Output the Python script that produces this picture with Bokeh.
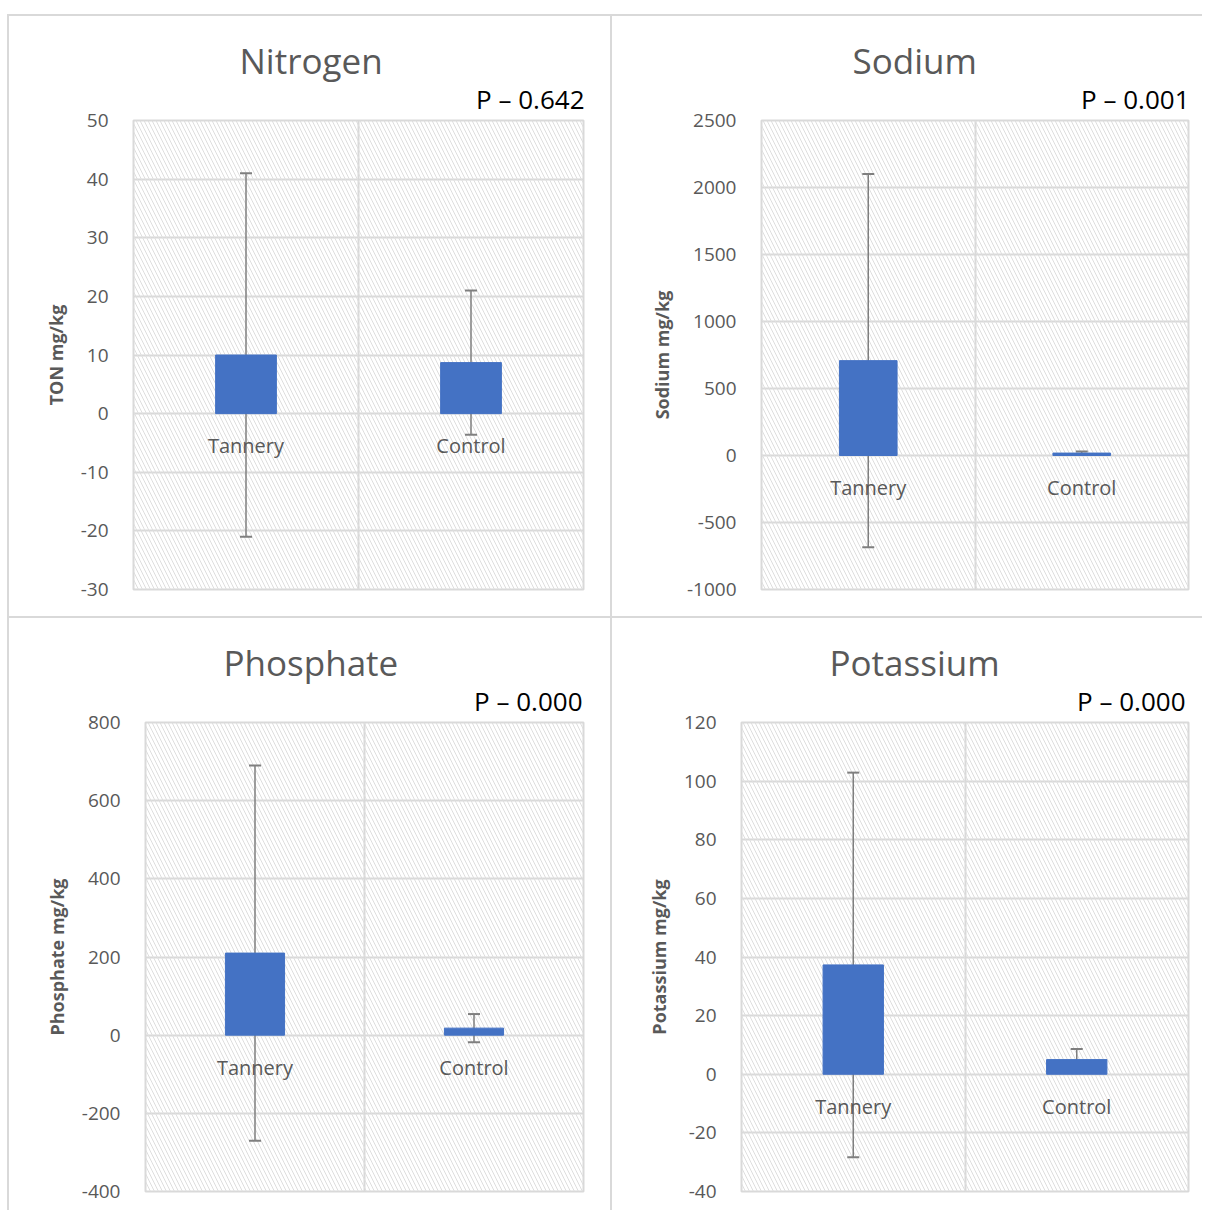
import math
from bokeh.plotting import figure
from bokeh.layouts import column, row
from bokeh.models import (Range1d, FixedTicker, Whisker, ColumnDataSource, Title,
                          BoxAnnotation, NumeralTickFormatter)
from bokeh.core.properties import value
from bokeh.embed import file_html
from bokeh.resources import INLINE

# ---------------- data ----------------
categories = ["Tannery", "Control"]

nitrogen_mean = [10.0, 8.7]
nitrogen_sd = [31.0, 12.3]

sodium_mean = [708.0, 18.0]
sodium_sd = [1392.0, 12.0]

phosphate_mean = [210.0, 18.0]
phosphate_sd = [480.0, 36.0]

potassium_mean = [37.3, 5.0]
potassium_sd = [65.6, 3.6]

titles = ["Nitrogen", "Sodium", "Phosphate", "Potassium"]
p_values = ["P \u2013 0.642", "P \u2013 0.001", "P \u2013 0.000", "P \u2013 0.000"]
y_labels = ["TON mg/kg", "Sodium mg/kg", "Phosphate mg/kg", "Potassium mg/kg"]
y_ticks = [
    [-30, -20, -10, 0, 10, 20, 30, 40, 50],
    [-1000, -500, 0, 500, 1000, 1500, 2000, 2500],
    [-400, -200, 0, 200, 400, 600, 800],
    [-40, -20, 0, 20, 40, 60, 80, 100, 120],
]

FONT = "Open Sans"
GRAY_TXT = "#595959"
GRID = "#d9d9d9"
BAR = "#4472C4"
ERR = "#7f7f7f"


def panel(title, pval, ylab, ticks, means, sds, w, h, mb_left, mb_right, mb_top, mb_bottom,
          title_offset, p_offset, ylab_standoff):
    p = figure(width=w, height=h, output_backend="svg", toolbar_location=None,
               x_range=Range1d(0, 2), y_range=Range1d(ticks[0], ticks[-1]),
               x_axis_location=None, min_border_left=mb_left, min_border_right=mb_right,
               min_border_top=mb_top, min_border_bottom=mb_bottom,
               background_fill_color="white", border_fill_color="white",
               styles={"border-left": f"2px solid {GRID}", "border-top": f"2px solid {GRID}"})
    p.outline_line_color = GRID
    p.outline_line_width = 2

    # hatched plot-area background
    p.add_layout(BoxAnnotation(fill_alpha=0, line_alpha=0, hatch_pattern="\\",
                               hatch_color="#dedede", hatch_scale=8, hatch_weight=1,
                               level="underlay"))

    p.ygrid.ticker = FixedTicker(ticks=ticks)
    p.ygrid.grid_line_color = GRID
    p.ygrid.grid_line_width = 2
    p.xgrid.ticker = FixedTicker(ticks=[1])
    p.xgrid.grid_line_color = GRID
    p.xgrid.grid_line_width = 2

    ax = p.yaxis[0]
    ax.ticker = FixedTicker(ticks=ticks)
    ax.formatter = NumeralTickFormatter(format="0")
    ax.axis_line_color = None
    ax.major_tick_line_color = None
    ax.minor_tick_line_color = None
    ax.major_label_text_font = FONT
    ax.major_label_text_font_size = "19px"
    ax.major_label_text_color = GRAY_TXT
    ax.major_label_standoff = 19
    ax.axis_label = ylab
    ax.axis_label_text_font = FONT
    ax.axis_label_text_font_size = "18px"
    ax.axis_label_text_font_style = "bold"
    ax.axis_label_text_color = GRAY_TXT
    ax.axis_label_standoff = ylab_standoff

    xs = [i + 0.5 for i in range(len(categories))]
    src = ColumnDataSource(dict(
        x=xs, cat=categories, top=means,
        upper=[m + s for m, s in zip(means, sds)],
        lower=[m - s for m, s in zip(means, sds)],
        zero=[0] * len(categories),
    ))
    p.vbar(x="x", top="top", bottom=0, width=0.27, source=src,
           fill_color=BAR, line_color=BAR)
    wh = Whisker(base="x", upper="upper", lower="lower", source=src,
                 line_color=ERR, line_width=1.5)
    wh.upper_head.line_color = ERR
    wh.lower_head.line_color = ERR
    wh.upper_head.size = 12
    wh.lower_head.size = 12
    wh.upper_head.line_width = 2
    wh.lower_head.line_width = 2
    p.add_layout(wh)

    p.text(x="x", y="zero", text="cat", source=src, text_font=value(FONT),
           text_font_size="20px", text_color=GRAY_TXT, text_align="center",
           text_baseline="middle", y_offset=32)

    p.add_layout(Title(text=pval, align="right", offset=p_offset, text_font=FONT,
                       text_font_size="26px", text_color="black",
                       text_font_style="normal", standoff=8), "above")
    p.add_layout(Title(text=title, align="left", offset=title_offset, text_font=FONT,
                       text_font_size="35px", text_color=GRAY_TXT,
                       text_font_style="normal", standoff=-18), "above")
    return p


p1 = panel(titles[0], p_values[0], y_labels[0], y_ticks[0], nitrogen_mean, nitrogen_sd,
           603, 602, 124, 29, 104, 29, 106, -1, 10)
p2 = panel(titles[1], p_values[1], y_labels[1], y_ticks[1], sodium_mean, sodium_sd,
           592, 602, 149, 16, 104, 29, 91, -1, 10)
p3 = panel(titles[2], p_values[2], y_labels[2], y_ticks[2], phosphate_mean, phosphate_sd,
           603, 594, 136, 29, 104, 21, 78, 1, 10)
p4 = panel(titles[3], p_values[3], y_labels[3], y_ticks[3], potassium_mean, potassium_sd,
           592, 594, 129, 16, 104, 21, 88, 3, 10)

layout = column(row(p1, p2, spacing=0), row(p3, p4, spacing=0), spacing=0,
                styles={"margin-left": "7px", "margin-top": "14px"})

html = file_html(layout, INLINE)
html = html.replace("<body>", "<body style=\"margin:0;background:white;\">")
open("out.html", "w").write(html)
